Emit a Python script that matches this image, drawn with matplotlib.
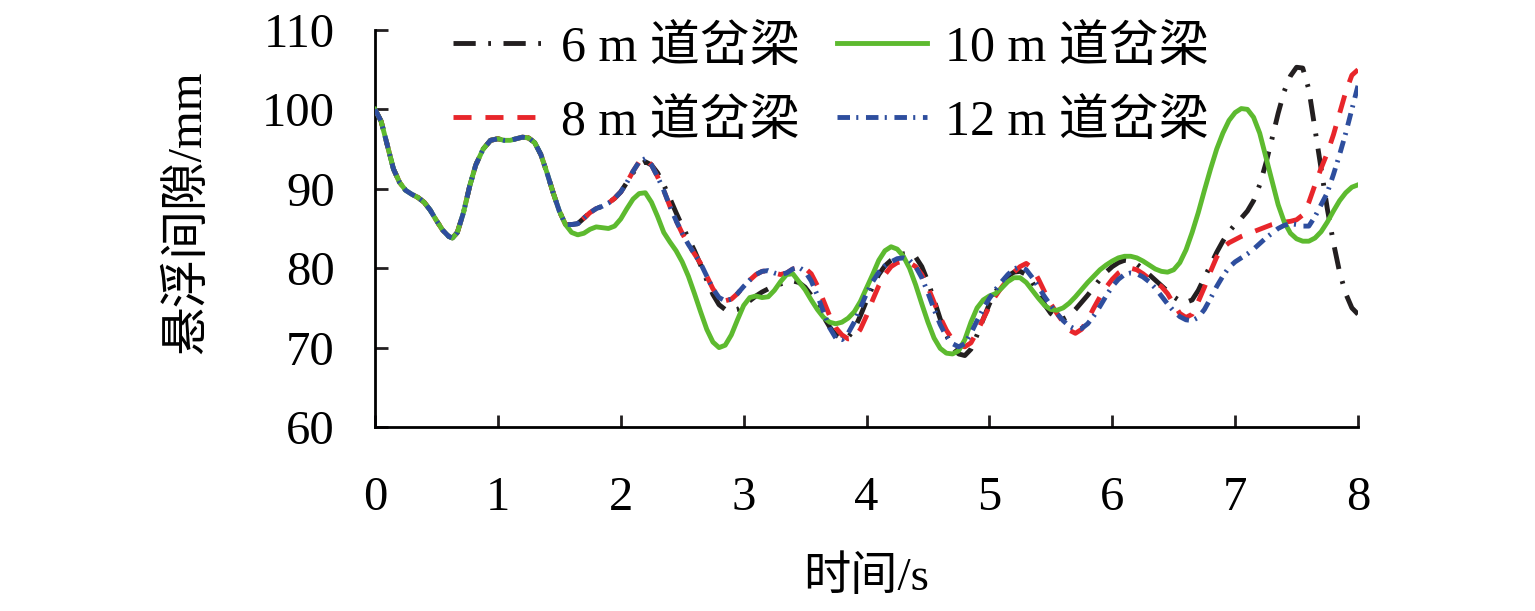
import numpy as np
import matplotlib
matplotlib.use('Agg')
import matplotlib.pyplot as plt

plt.rcParams['font.family'] = ['Liberation Serif', 'Noto Sans CJK SC']
plt.rcParams['lines.scale_dashes'] = False

# shared start of all four curves (0 - 1.55 s)
t_common = [0.0, 0.05, 0.1, 0.15, 0.2, 0.25, 0.3, 0.35, 0.4, 0.45, 0.5, 0.55, 0.6, 0.63,
            0.67, 0.72, 0.77, 0.82, 0.88, 0.94, 1.0, 1.05, 1.1, 1.15, 1.2, 1.25, 1.3, 1.35,
            1.4, 1.45, 1.5, 1.55]
gap_common = [100, 98.5, 95.5, 92.5, 90.8, 89.8, 89.3, 88.9, 88.3, 87.3, 86.0, 84.8, 84.0, 83.8,
              84.5, 87.0, 90.3, 93.0, 95.0, 96.1, 96.3, 96.1, 96.1, 96.3, 96.5, 96.4, 95.8, 94.3,
              92.0, 89.5, 87.2, 85.5]

# time steps after 1.55 s
t_rest = [round(1.6 + 0.05 * i, 2) for i in range(129)]

gap_6m = [85.5, 85.6, 86.3, 87.0, 87.5, 87.8, 88.2, 88.8, 89.6, 90.8, 92.0, 93.0, 93.4, 93.0,
          92.0, 90.5, 88.8, 87.0, 85.3, 83.8, 82.2, 80.4, 78.5, 76.7, 75.4, 74.8, 74.6, 74.8,
          75.3, 75.9, 76.5, 77.0, 77.4, 77.7, 78.0, 78.3, 78.4, 78.2, 77.6, 76.6, 75.3, 73.9,
          72.6, 71.6, 71.1, 71.3, 72.3, 74.0, 75.9, 77.7, 79.2, 80.3, 81.0, 81.5, 81.8, 81.9,
          81.4, 80.2, 78.3, 76.0, 73.6, 71.6, 70.1, 69.2, 69.0, 69.8, 71.6, 73.6, 75.5, 77.0,
          78.2, 79.0, 79.5, 79.6, 79.2, 78.2, 76.8, 75.4, 74.3, 73.7, 73.6, 74.0, 74.8, 75.7,
          76.6, 77.6, 78.6, 79.5, 80.2, 80.7, 81.0, 80.9, 80.5, 79.9, 79.2, 78.5, 77.8, 77.1,
          76.4, 75.9, 75.7, 76.0, 77.2, 78.8, 80.4, 82.0, 83.4, 84.6, 85.5, 86.3, 87.2, 88.5,
          90.5, 93.2, 96.3, 99.5, 102.3, 104.2, 105.3, 105.2, 102.5, 97.5, 92.5, 87.5, 83.2,
          79.5, 76.8, 75.0, 74.2]

gap_8m = [85.5, 85.6, 86.3, 87.0, 87.5, 87.8, 88.2, 88.8, 89.6, 90.8, 92.2, 93.4, 93.8, 93.0,
          91.5, 89.8, 87.8, 86.0, 84.4, 83.0, 81.8, 80.6, 79.0, 77.4, 76.3, 75.9, 76.1, 76.8,
          77.7, 78.5, 79.2, 79.6, 79.7, 79.4, 79.2, 79.4, 79.9, 80.1, 80.0, 79.3, 77.8, 75.9,
          74.0, 72.5, 71.6, 71.1, 71.2, 72.3, 74.0, 76.0, 77.8, 79.2, 80.2, 80.7, 80.9, 80.7,
          80.2, 79.2, 77.6, 75.7, 73.8, 72.2, 71.0, 70.3, 70.1, 70.6, 72.0, 73.6, 75.2, 76.5,
          77.6, 78.6, 79.5, 80.2, 80.6, 80.0, 78.6, 77.0, 75.5, 74.3, 73.2, 72.2, 71.8, 72.3,
          73.5, 75.0, 76.4, 77.6, 78.6, 79.4, 79.9, 80.0, 79.8, 79.3, 78.7, 78.2, 77.7, 76.8,
          75.5, 74.3, 73.8, 74.2, 75.8, 77.6, 79.6, 81.4, 82.6, 83.2, 83.6, 84.0, 84.3, 84.6,
          84.9, 85.2, 85.5, 85.7, 85.8, 85.9, 86.1, 86.7, 88.3, 90.5, 92.6, 94.5, 96.8, 99.5,
          102.2, 104.3, 105.0]

gap_10m = [84.5, 84.2, 84.4, 84.9, 85.2, 85.1, 85.0, 85.3, 86.2, 87.5, 88.7, 89.4, 89.5, 88.3,
           86.5, 84.5, 83.3, 82.2, 80.8, 79.0, 76.8, 74.5, 72.3, 70.7, 70.0, 70.3, 71.6, 73.5,
           75.3, 76.3, 76.5, 76.3, 76.4, 77.2, 78.3, 79.2, 79.3, 78.3, 77.3, 76.0, 74.8, 73.8,
           73.2, 73.0, 73.2, 73.7, 74.5, 75.8, 77.5, 79.2, 81.0, 82.2, 82.7, 82.4, 81.5, 80.0,
           77.9, 75.5, 73.2, 71.2, 69.9, 69.3, 69.2, 69.6, 71.0, 73.2, 75.0, 76.0, 76.5, 76.8,
           77.5, 78.3, 78.8, 78.8, 78.2, 77.2, 76.2, 75.3, 74.8, 74.7, 75.0, 75.6, 76.4, 77.3,
           78.2, 79.0, 79.8, 80.4, 80.9, 81.3, 81.5, 81.5, 81.3, 80.9, 80.4, 79.9, 79.6, 79.5,
           79.8, 80.7, 82.3, 84.5, 87.0, 89.8, 92.5, 95.0, 97.0, 98.6, 99.6, 100.1, 100.0, 99.0,
           97.0, 94.0, 91.0, 88.0, 85.8, 84.4, 83.7, 83.4, 83.4, 83.8, 84.6, 85.8, 87.2, 88.5,
           89.5, 90.2, 90.5]

gap_12m = [85.5, 85.6, 86.3, 87.0, 87.5, 87.8, 88.2, 88.8, 89.6, 90.8, 92.2, 93.4, 93.8, 93.0,
           91.5, 89.8, 87.8, 86.0, 84.4, 83.0, 81.8, 80.6, 79.0, 77.4, 76.3, 75.9, 76.1, 76.8,
           77.7, 78.5, 79.2, 79.6, 79.7, 79.4, 79.2, 79.4, 79.9, 80.1, 79.6, 78.4, 76.6, 74.5,
           72.5, 71.2, 71.0, 71.8, 73.2, 75.0, 76.8, 78.3, 79.5, 80.3, 80.8, 81.2, 81.3, 81.0,
           80.2, 78.8, 76.9, 74.8, 72.9, 71.4, 70.5, 70.1, 70.5, 71.8, 73.4, 74.9, 76.2, 77.3,
           78.3, 79.2, 79.9, 80.2, 79.8, 78.8, 77.6, 76.4, 75.3, 74.3, 73.4, 72.7, 72.3, 72.4,
           73.0, 74.0, 75.2, 76.5, 77.7, 78.6, 79.2, 79.4, 79.3, 78.9, 78.3, 77.5, 76.5, 75.5,
           74.6, 73.9, 73.5, 73.4, 73.8, 74.8, 76.2, 77.7, 79.0, 80.1, 80.8, 81.3, 81.8, 82.4,
           83.1, 83.8, 84.4, 85.0, 85.4, 85.6, 85.5, 85.3, 85.3, 86.5, 88.0, 89.5, 91.8, 94.3,
           97.0, 100.0, 103.0]

labels = ['6 m 道岔梁', '8 m 道岔梁', '10 m 道岔梁', '12 m 道岔梁']
colors = ['#231f20', '#e8262b', '#5dba2f', '#2e4e9e']

t = t_common + t_rest
fig = plt.figure(figsize=(15.35, 6.11), dpi=100)
ax = fig.add_axes([0.2443, 0.3011, 0.6404, 0.6499])

lw = 3.5
l6, = ax.plot(t, gap_common + gap_6m, color=colors[0], lw=lw, dashes=(16, 9, 2, 9), zorder=2)
l8, = ax.plot(t, gap_common + gap_8m, color=colors[1], lw=lw, dashes=(13, 10), zorder=3)
l10, = ax.plot(t, gap_common + gap_10m, color=colors[2], lw=lw, zorder=4)
l12, = ax.plot(t, gap_common + gap_12m, color=colors[3], lw=lw, dashes=(9, 4.5, 1.5, 5.5), zorder=5)

ax.set_xlim(0, 8)
ax.set_ylim(60, 110)
ax.set_xticks(range(0, 9))
ax.set_yticks(range(60, 111, 10))
ax.spines['top'].set_visible(False)
ax.spines['right'].set_visible(False)
ax.spines['left'].set_linewidth(2)
ax.spines['bottom'].set_linewidth(2)
ax.tick_params(direction='in', length=9, width=2, labelsize=35, color='#231f20')
ax.tick_params(axis='x', pad=35)
ax.tick_params(axis='y', pad=29)

ax.set_xlabel('时间/s', fontsize=34)
ax.xaxis.label.set_va('center')
ax.xaxis.set_label_coords(0.5, -0.38)
ax.set_ylabel('悬浮间隙/mm', fontsize=35)
ax.yaxis.label.set_va('center')
ax.yaxis.set_label_coords(-0.19, 0.54)

ax.legend([l6, l8, l10, l12], labels, ncol=2, frameon=False, fontsize=36,
          loc='upper left', bbox_to_anchor=(0.054, 1.075), borderpad=0,
          handlelength=1.8, handletextpad=0.36, columnspacing=0.75, labelspacing=0.55)

plt.savefig('out.png', dpi=100)
